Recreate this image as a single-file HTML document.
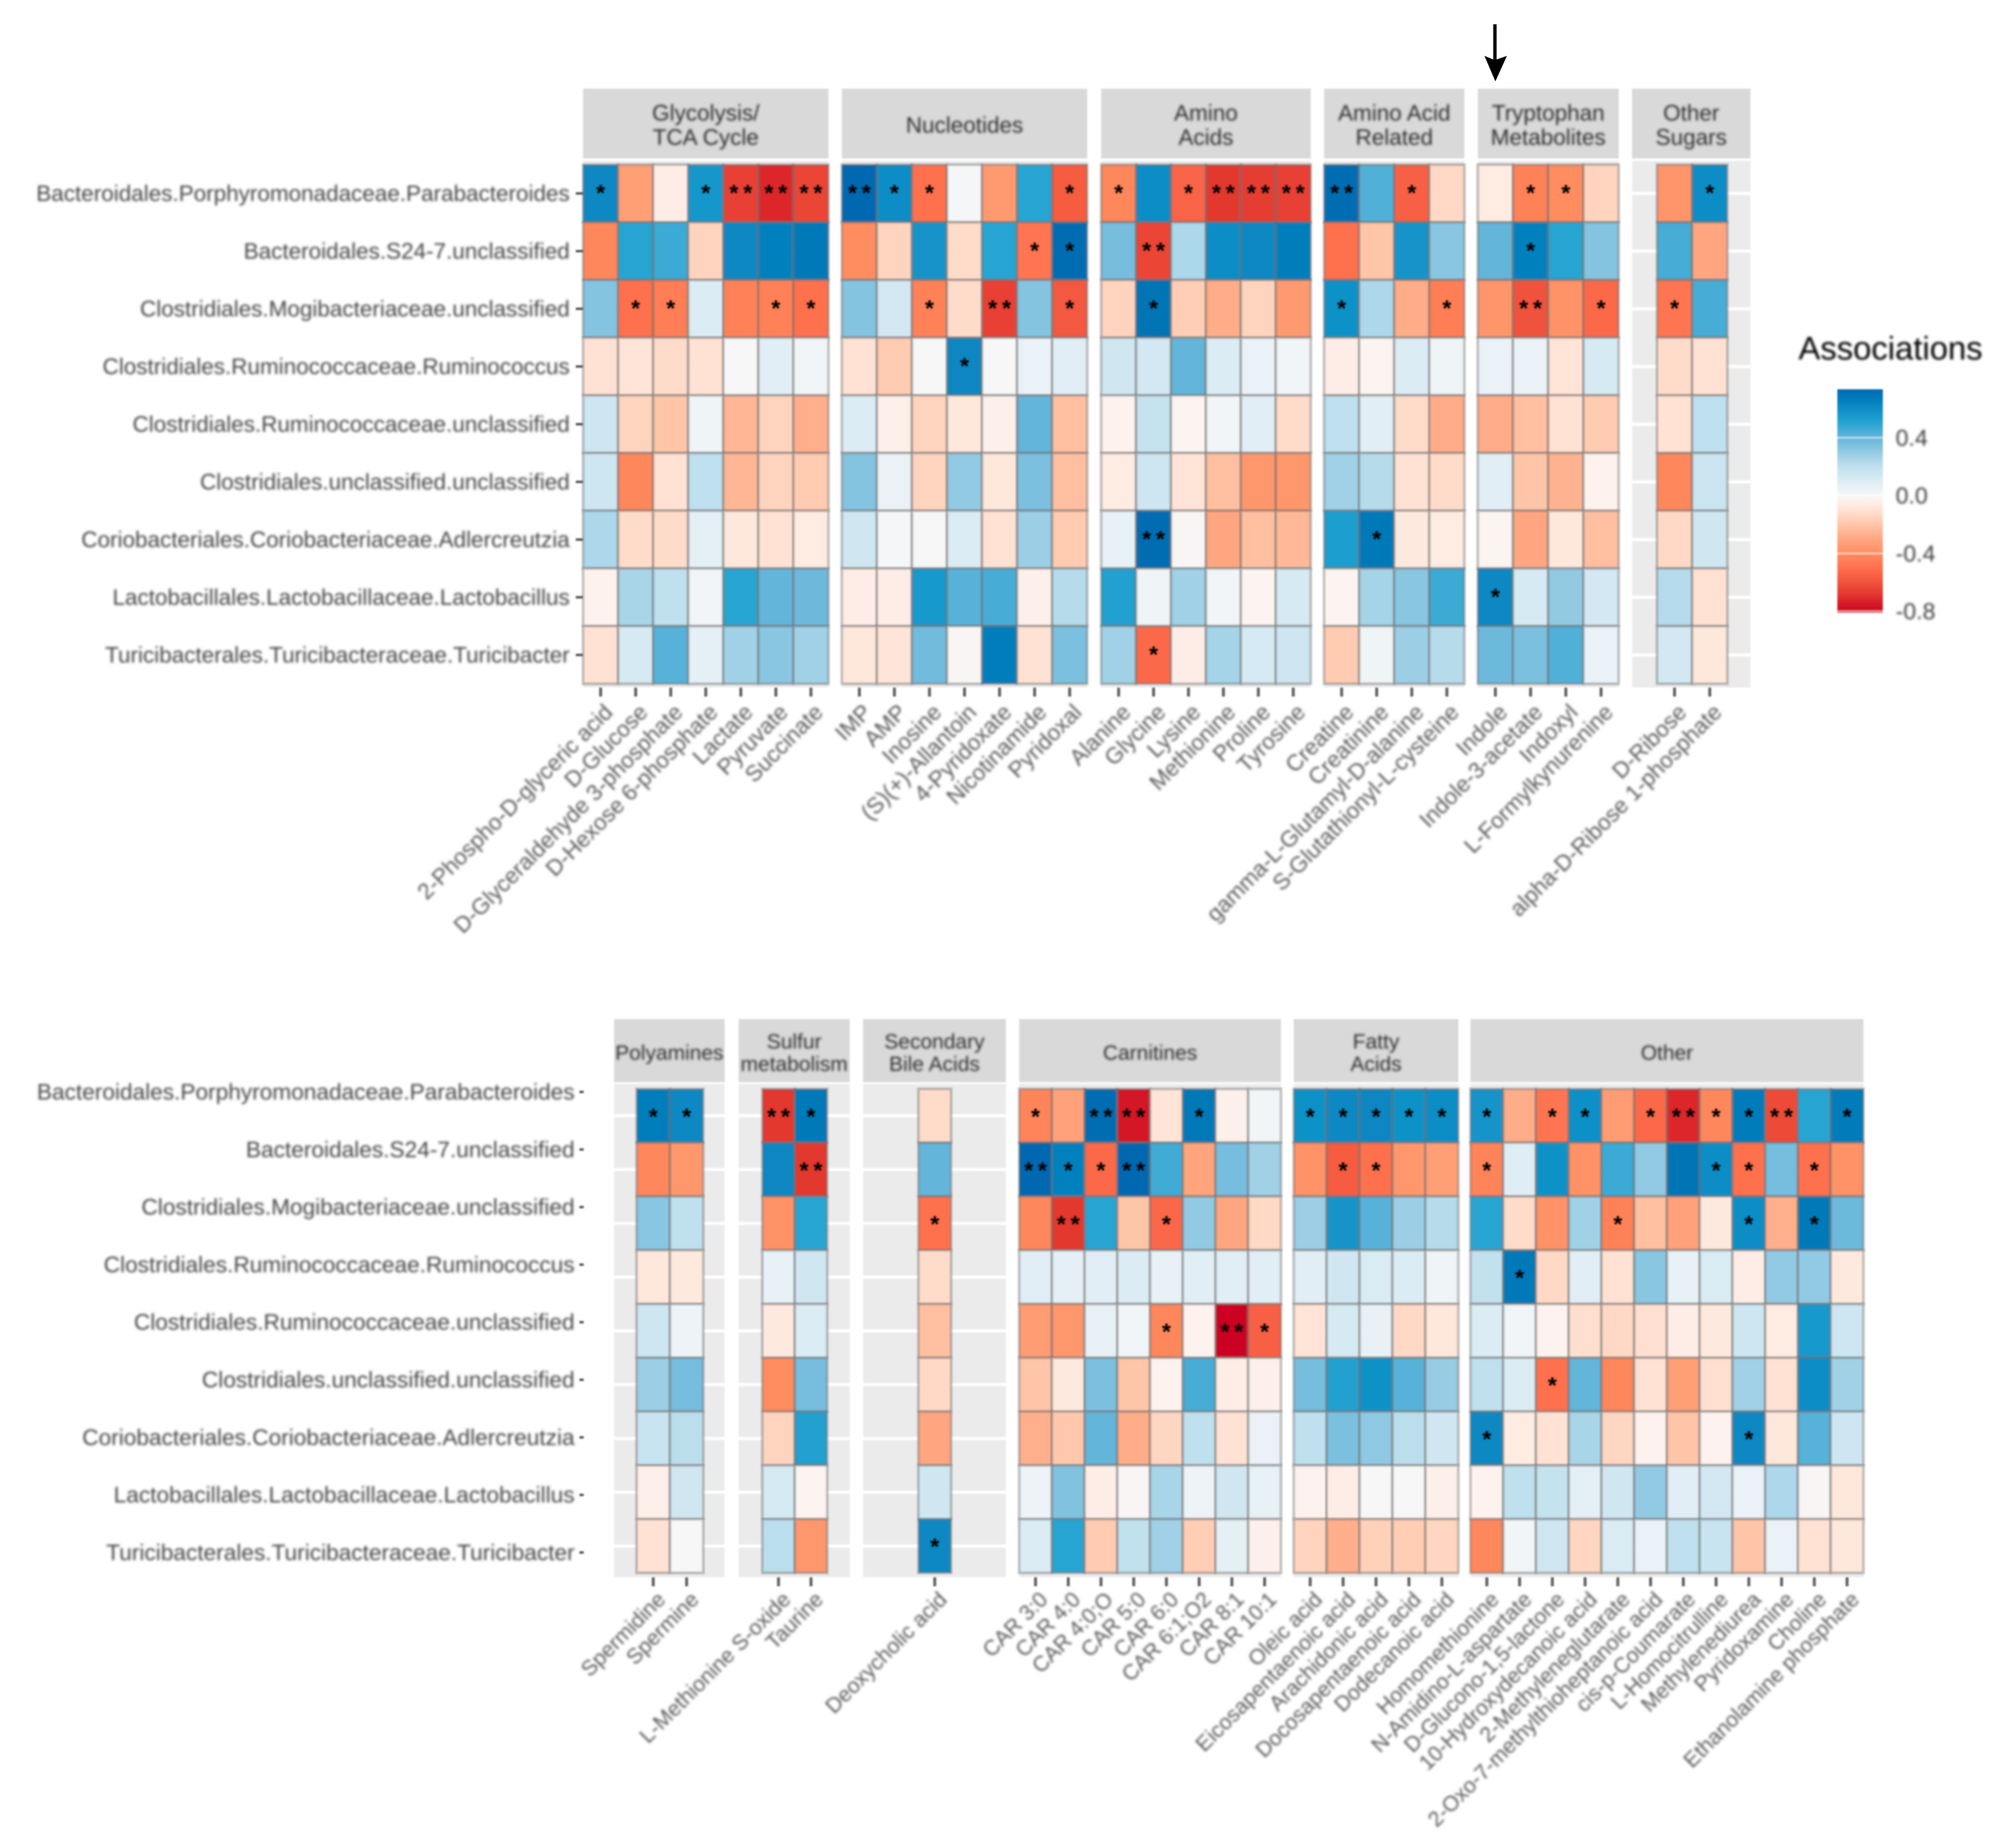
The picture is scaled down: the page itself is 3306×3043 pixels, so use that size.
<!DOCTYPE html>
<html lang="en">
<head>
<meta charset="utf-8">
<title>Microbe–metabolite association heatmaps</title>
<style>
html,body{margin:0;padding:0;background:#fff;}
svg{display:block;font-family:"Liberation Sans",sans-serif;}
</style>
</head>
<body>
<svg id="chart" xmlns="http://www.w3.org/2000/svg" width="3306" height="3043" viewBox="0 0 3306 3043">
  <defs>
    <filter id="softText" x="-5%" y="-5%" width="110%" height="110%"><feGaussianBlur stdDeviation="2"/></filter>
    <filter id="softMark" x="-2%" y="-2%" width="104%" height="104%"><feGaussianBlur stdDeviation="1.2"/></filter>
    <linearGradient id="legendGradient" x1="0" y1="0" x2="0" y2="1"></linearGradient>
  </defs>
  <g id="marks" filter="url(#softMark)"></g>
  <g id="texts" filter="url(#softText)"></g>
  <g id="stars" filter="url(#softMark)"></g>
  <g id="legend" filter="url(#softMark)"></g>
  <g id="arrow">
    <rect x="2458.5" y="40" width="5.5" height="60" fill="#000"></rect>
    <polygon points="2444,92 2461,99 2481,92 2462,134" fill="#000"></polygon>
  </g>
</svg>
<script>
/* ---------- shared categories ---------- */
const rowLabels = [
  "Bacteroidales.Porphyromonadaceae.Parabacteroides",
  "Bacteroidales.S24-7.unclassified",
  "Clostridiales.Mogibacteriaceae.unclassified",
  "Clostridiales.Ruminococcaceae.Ruminococcus",
  "Clostridiales.Ruminococcaceae.unclassified",
  "Clostridiales.unclassified.unclassified",
  "Coriobacteriales.Coriobacteriaceae.Adlercreutzia",
  "Lactobacillales.Lactobacillaceae.Lactobacillus",
  "Turicibacterales.Turicibacteraceae.Turicibacter"
];

/* ---------- colour scale ---------- */
const scaleValues = [-0.81,-0.7,-0.6,-0.5,-0.4,-0.3,-0.2,-0.1,-0.03,0,0.05,0.1,0.2,0.3,0.4,0.5,0.6,0.7,0.735];
const scaleColors = ["#ca0020","#e0302c","#f0533c","#ff6f4d","#ff8d60","#ffa680","#ffc5a8","#ffe2d3","#fdf2ee","#f7f7f7","#eaf2f7","#dcecf4","#bfe0ee","#93cae3","#63b5da","#28a5d2","#0a8dc6","#0074b6","#0068b0"];
const legendTicks = [0.4,0,-0.4,-0.8];
const legendTickLabels = ["0.4","0.0","-0.4","-0.8"];

/* ---------- top figure ---------- */
const glycolysisLabels = ["2-Phospho-D-glyceric acid","D-Glucose","D-Glyceraldehyde 3-phosphate","D-Hexose 6-phosphate","Lactate","Pyruvate","Succinate"];
const glycolysisValues = [
  [0.62,-0.33,-0.05,0.56,-0.65,-0.72,-0.64],
  [-0.42,0.5,0.47,-0.15,0.62,0.65,0.68],
  [0.33,-0.5,-0.45,0.1,-0.44,-0.44,-0.5],
  [-0.1,-0.09,-0.12,-0.1,0,0.08,0.02],
  [0.15,-0.15,-0.2,0.03,-0.25,-0.15,-0.27],
  [0.15,-0.42,-0.1,0.2,-0.25,-0.15,-0.18],
  [0.24,-0.12,-0.12,0.07,-0.08,-0.1,-0.06],
  [-0.03,0.25,0.2,0.02,0.5,0.4,0.38],
  [-0.1,0.12,0.42,0.07,0.27,0.32,0.27]
];
const glycolysisStars = ["1001222","0000000","0110011","0000000","0000000","0000000","0000000","0000000","0000000"];

const nucleotideLabels = ["IMP","AMP","Inosine","(S)(+)-Allantoin","4-Pyridoxate","Nicotinamide","Pyridoxal"];
const nucleotideValues = [
  [0.74,0.6,-0.5,0.01,-0.35,0.5,-0.57],
  [-0.4,-0.15,0.57,-0.12,0.5,-0.48,0.72],
  [0.33,0.13,-0.44,-0.12,-0.65,0.33,-0.58],
  [-0.1,-0.18,0,0.63,0,0.05,0.08],
  [0.1,-0.04,-0.15,-0.08,-0.04,0.4,-0.22],
  [0.33,0.05,-0.15,0.3,-0.08,0.35,-0.22],
  [0.14,0.01,0,0.1,-0.1,0.28,-0.18],
  [-0.05,-0.05,0.55,0.42,0.45,-0.04,0.22],
  [-0.08,-0.09,0.37,-0.01,0.66,-0.1,0.35]
];
const nucleotideStars = ["2110001","0000011","0010201","0001000","0000000","0000000","0000000","0000000","0000000"];

const aminoLabels = ["Alanine","Glycine","Lysine","Methionine","Proline","Tyrosine"];
const aminoValues = [
  [-0.42,0.6,-0.54,-0.68,-0.66,-0.65],
  [0.36,-0.64,0.24,0.6,0.62,0.66],
  [-0.15,0.7,-0.17,-0.28,-0.15,-0.35],
  [0.14,0.13,0.4,0.1,0.05,0.02],
  [-0.03,0.18,-0.02,0.02,0.08,-0.12],
  [-0.06,0.15,-0.09,-0.22,-0.36,-0.36],
  [0.06,0.72,-0.01,-0.3,-0.22,-0.24],
  [0.52,0.03,0.27,0.02,-0.02,0.12],
  [0.27,-0.52,-0.05,0.26,0.12,0.15]
];
const aminoStars = ["101222","020000","010000","000000","000000","000000","020000","000000","010000"];

const aminoRelatedLabels = ["Creatine","Creatinine","gamma-L-Glutamyl-D-alanine","S-Glutathionyl-L-cysteine"];
const aminoRelatedValues = [
  [0.72,0.43,-0.55,-0.13],
  [-0.5,-0.2,0.57,0.32],
  [0.58,0.24,-0.28,-0.45],
  [-0.05,-0.02,0.1,0.03],
  [0.2,0.08,-0.12,-0.28],
  [0.27,0.22,-0.1,-0.12],
  [0.53,0.68,-0.07,-0.06],
  [-0.02,0.26,0.32,0.47],
  [-0.18,0.03,0.28,0.22]
];
const aminoRelatedStars = ["2010","0000","1001","0000","0000","0000","0100","0000","0000"];

const tryptophanLabels = ["Indole","Indole-3-acetate","Indoxyl","L-Formylkynurenine"];
const tryptophanValues = [
  [-0.06,-0.44,-0.4,-0.15],
  [0.4,0.65,0.5,0.33],
  [-0.37,-0.6,-0.38,-0.52],
  [0.05,0.05,-0.09,0.12],
  [-0.28,-0.22,-0.1,-0.18],
  [0.08,-0.2,-0.26,-0.03],
  [-0.02,-0.3,-0.08,-0.22],
  [0.62,0.12,0.3,0.13],
  [0.38,0.35,0.43,0.05]
];
const tryptophanStars = ["0110","0100","0201","0000","0000","0000","0000","1000","0000"];

const sugarLabels = ["D-Ribose","alpha-D-Ribose 1-phosphate"];
const sugarValues = [
  [-0.37,0.6],[0.45,-0.3],[-0.48,0.45],[-0.12,-0.1],[-0.1,0.2],[-0.42,0.16],[-0.13,0.14],[0.22,-0.1],[0.13,-0.08]
];
const sugarStars = ["01","00","10","00","00","00","00","00","00"];

/* ---------- bottom figure ---------- */
const polyamineLabels = ["Spermidine","Spermine"];
const polyamineValues = [
  [0.66,0.62],[-0.42,-0.36],[0.32,0.2],[-0.08,-0.07],[0.15,0.04],[0.28,0.36],[0.17,0.21],[-0.04,0.14],[-0.1,0]
];
const polyamineStars = ["11","00","00","00","00","00","00","00","00"];

const sulfurLabels = ["L-Methionine S-oxide","Taurine"];
const sulfurValues = [
  [-0.68,0.68],[0.63,-0.68],[-0.38,0.5],[0.06,0.14],[-0.07,0.1],[-0.4,0.36],[-0.15,0.52],[0.12,-0.02],[0.21,-0.36]
];
const sulfurStars = ["21","02","00","00","00","00","00","00","00"];

const bileLabels = ["Deoxycholic acid"];
const bileValues = [[-0.12],[0.4],[-0.5],[-0.12],[-0.22],[-0.13],[-0.3],[0.14],[0.62]];
const bileStars = ["0","0","1","0","0","0","0","0","1"];

const carnitineLabels = ["CAR 3:0","CAR 4:0","CAR 4:0;O","CAR 5:0","CAR 6:0","CAR 6:1;O2","CAR 8:1","CAR 10:1"];
const carnitineValues = [
  [-0.43,-0.32,0.72,-0.76,-0.09,0.68,-0.04,0.02],
  [0.75,0.65,-0.52,0.74,0.46,-0.31,0.36,0.27],
  [-0.42,-0.68,0.5,-0.2,-0.53,0.3,-0.3,-0.13],
  [0.08,0.07,0.08,0.1,0.06,0.08,0.08,0.08],
  [-0.34,-0.36,0.06,0.02,-0.42,-0.03,-0.8,-0.55],
  [-0.2,-0.07,0.35,-0.2,-0.03,0.45,-0.05,-0.04],
  [-0.27,-0.19,0.4,-0.28,-0.14,0.2,-0.1,0.05],
  [0.04,0.34,-0.05,-0.01,0.25,0.04,0.14,0.06],
  [0.1,0.5,-0.18,0.19,0.27,-0.17,0.07,-0.04]
];
const carnitineStars = ["10220100","21120000","02001000","00000000","00001021","00000000","00000000","00000000","00000000"];

const fattyLabels = ["Oleic acid","Eicosapentaenoic acid","Arachidonic acid","Docosapentaenoic acid","Dodecanoic acid"];
const fattyValues = [
  [0.58,0.62,0.63,0.58,0.6],
  [-0.38,-0.57,-0.5,-0.36,-0.33],
  [0.28,0.57,0.42,0.28,0.22],
  [0.08,0.14,0.11,0.1,0.03],
  [-0.09,0.12,0.06,-0.13,-0.08],
  [0.36,0.52,0.58,0.42,0.29],
  [0.2,0.35,0.31,0.21,0.14],
  [-0.03,-0.05,0,0,-0.04],
  [-0.15,-0.27,-0.16,-0.17,-0.14]
];
const fattyStars = ["11111","01100","00000","00000","00000","00000","00000","00000","00000"];

const otherLabels = ["Homomethionine","N-Amidino-L-aspartate","D-Glucono-1,5-lactone","10-Hydroxydecanoic acid","2-Methyleneglutarate","2-Oxo-7-methylthioheptanoic acid","cis-p-Coumarate","L-Homocitrulline","Methylenediurea","Pyridoxamine","Choline","Ethanolamine phosphate"];
const otherValues = [
  [0.57,-0.28,-0.48,0.59,-0.34,-0.52,-0.72,-0.42,0.67,-0.62,0.5,0.67],
  [-0.43,0.09,0.58,-0.38,0.47,0.3,0.7,0.6,-0.5,0.36,-0.5,-0.38],
  [0.5,-0.12,-0.38,0.27,-0.44,-0.22,-0.32,-0.07,0.6,-0.27,0.68,0.38],
  [0.19,0.68,-0.13,0.08,-0.1,0.32,0.06,0.11,-0.05,0.3,0.3,-0.07],
  [0.1,0.02,-0.03,-0.11,-0.13,-0.11,-0.05,-0.07,0.15,-0.06,0.55,0.15],
  [0.2,0.1,-0.5,0.4,-0.42,-0.1,-0.33,-0.11,0.27,-0.1,0.6,0.27],
  [0.62,-0.06,-0.1,0.25,-0.14,-0.03,-0.2,-0.03,0.62,-0.08,0.42,0.15],
  [-0.03,0.2,0.18,0.07,0.14,0.3,0.08,0.13,0.05,0.24,-0.01,-0.08],
  [-0.42,0.02,0.14,-0.14,0.11,0.05,0.2,0.17,-0.2,0.05,-0.1,-0.08]
];
const otherStars = ["101101211201","100000011010","000010001010","010000000000","000000000000","001000000000","100000001000","000000000000","000000000000"];

/* ---------- layout (not data) ---------- */
const figures = [
  { name:"top", stripTop:146, stripBottom:261, bgTop:265, bgBottom:1132, cellTop:271, cellBottom:1126,
    rowLabelRight:938, rowTickX0:948, rowTickX1:960, rowLabelTop:318.5, rowLabelStep:95,
    tickEnd:1147, labelY:1175, starLift:9, titleGap:40,
    rowFont:37, xFont:37.2, stripFont:37,
    panels:[
      {key:"glycolysis",title:["Glycolysis/","TCA Cycle"],labels:glycolysisLabels,values:glycolysisValues,stars:glycolysisStars,bg:[960,1364],cells:[960,1364]},
      {key:"nucleotides",title:["Nucleotides"],labels:nucleotideLabels,values:nucleotideValues,stars:nucleotideStars,bg:[1386,1790],cells:[1386,1790]},
      {key:"amino-acids",title:["Amino","Acids"],labels:aminoLabels,values:aminoValues,stars:aminoStars,bg:[1813,2158],cells:[1813,2158]},
      {key:"amino-acid-related",title:["Amino Acid","Related"],labels:aminoRelatedLabels,values:aminoRelatedValues,stars:aminoRelatedStars,bg:[2180,2411],cells:[2180,2411]},
      {key:"tryptophan-metabolites",title:["Tryptophan","Metabolites"],labels:tryptophanLabels,values:tryptophanValues,stars:tryptophanStars,bg:[2433,2665],cells:[2433,2665]},
      {key:"other-sugars",title:["Other","Sugars"],labels:sugarLabels,values:sugarValues,stars:sugarStars,bg:[2687,2882],cells:[2728,2844]}
    ]},
  { name:"bottom", stripTop:1678, stripBottom:1782, bgTop:1785, bgBottom:2597, cellTop:1793, cellBottom:2590,
    rowLabelRight:946, rowTickX0:954, rowTickX1:961, rowLabelTop:1798, rowLabelStep:94.8,
    tickEnd:2612, labelY:2636, starLift:7, titleGap:37,
    rowFont:37.3, xFont:35.4, stripFont:34.5,
    panels:[
      {key:"polyamines",title:["Polyamines"],labels:polyamineLabels,values:polyamineValues,stars:polyamineStars,bg:[1011,1193],cells:[1048,1158]},
      {key:"sulfur-metabolism",title:["Sulfur","metabolism"],labels:sulfurLabels,values:sulfurValues,stars:sulfurStars,bg:[1216,1399],cells:[1255,1362]},
      {key:"secondary-bile-acids",title:["Secondary","Bile Acids"],labels:bileLabels,values:bileValues,stars:bileStars,bg:[1421,1656],cells:[1512,1566]},
      {key:"carnitines",title:["Carnitines"],labels:carnitineLabels,values:carnitineValues,stars:carnitineStars,bg:[1678,2109],cells:[1678,2109]},
      {key:"fatty-acids",title:["Fatty","Acids"],labels:fattyLabels,values:fattyValues,stars:fattyStars,bg:[2130,2401],cells:[2130,2401]},
      {key:"other",title:["Other"],labels:otherLabels,values:otherValues,stars:otherStars,bg:[2421,3068],cells:[2421,3068]}
    ]}
];

/* ---------- helpers ---------- */
const SVGNS = "http://www.w3.org/2000/svg";
const marksLayer = document.getElementById("marks");
const textLayer = document.getElementById("texts");
const starLayer = document.getElementById("stars");
const legendLayer = document.getElementById("legend");

function shape(tag, parent, attrs) {
  const el = document.createElementNS(SVGNS, tag);
  for (const k in attrs) el.setAttribute(k, attrs[k]);
  parent.appendChild(el);
  return el;
}
function hexToRgb(h) {
  return [parseInt(h.slice(1,3),16),parseInt(h.slice(3,5),16),parseInt(h.slice(5,7),16)];
}
function colorFor(v) {
  if (v <= scaleValues[0]) return scaleColors[0];
  for (let i = 1; i < scaleValues.length; i++) {
    if (v <= scaleValues[i]) {
      const t = (v - scaleValues[i-1]) / (scaleValues[i] - scaleValues[i-1]);
      const a = hexToRgb(scaleColors[i-1]);
      const b = hexToRgb(scaleColors[i]);
      return "rgb(" + a.map((c,j) => Math.round(c + (b[j]-c)*t)).join(",") + ")";
    }
  }
  return scaleColors[scaleColors.length-1];
}

/* ---------- draw heatmaps ---------- */
figures.forEach(function (fig) {
  const rowH = (fig.cellBottom - fig.cellTop) / rowLabels.length;
  const yScale = function (r) { return fig.cellTop + r * rowH; };

  rowLabels.forEach(function (label, r) {
    const ly = fig.rowLabelTop + r * fig.rowLabelStep;
    const t = shape("text", textLayer, {x:fig.rowLabelRight, y:ly + 12.5, "text-anchor":"end", "font-size":fig.rowFont, fill:"#444"});
    t.textContent = label;
    
    
    const tick = shape("line", marksLayer, {x1:fig.rowTickX0, x2:fig.rowTickX1, y1:ly, y2:ly, stroke:"#555", "stroke-width":4});
    
    
  });

  fig.panels.forEach(function (p) {
    const bgW = p.bg[1] - p.bg[0];
    const strip = shape("rect", marksLayer, {x:p.bg[0], y:fig.stripTop, width:bgW, height:fig.stripBottom - fig.stripTop, fill:"#d9d9d9"});
    
    

    const cx = (p.bg[0] + p.bg[1]) / 2;
    const cy = (fig.stripTop + fig.stripBottom) / 2;
    p.title.forEach(function (line, i) {
      const off = (i - (p.title.length - 1) / 2) * fig.titleGap;
      const t = shape("text", textLayer, {x:cx, y:cy + off + 15, "text-anchor":"middle", "font-size":fig.stripFont, fill:"#2e2e2e"});
      t.textContent = line;
      
      
    });

    const bg = shape("rect", marksLayer, {x:p.bg[0], y:fig.bgTop, width:bgW, height:fig.bgBottom - fig.bgTop, fill:"#ebebeb"});
    
    

    rowLabels.forEach(function (_, r) {
      const gy = yScale(r) + rowH / 2;
      const grid = shape("line", marksLayer, {x1:p.bg[0], x2:p.bg[1], y1:gy, y2:gy, stroke:"#fff", "stroke-width":5});
      
      
    });

    const colW = (p.cells[1] - p.cells[0]) / p.labels.length;
    const xScale = function (c) { return p.cells[0] + c * colW; };

    p.values.forEach(function (rowValues, r) {
      rowValues.forEach(function (v, c) {
        const tile = shape("rect", marksLayer, {x:xScale(c), y:yScale(r), width:colW, height:rowH, fill:colorFor(v), stroke:"#6e6e6e", "stroke-opacity":0.42, "stroke-width":4.5});
        
        

        const count = Number(p.stars[r][c]);
        if (count > 0) {
          const star = shape("text", starLayer, {
            x:xScale(c) + colW / 2 + (count > 1 ? 4 : 0),
            y:yScale(r) + rowH / 2 - fig.starLift + 21,
            "text-anchor":"middle", "font-size":38, "font-weight":"bold", "letter-spacing":count > 1 ? 8 : 0, fill:"#000"
          });
          star.textContent = "*".repeat(count);
          
          
        }
      });
    });

    p.labels.forEach(function (label, c) {
      const tx = xScale(c) + colW / 2;
      const tick = shape("line", marksLayer, {x1:tx, x2:tx, y1:fig.bgBottom, y2:fig.tickEnd, stroke:"#666", "stroke-width":5});
      
      
      const lx = tx + 22;
      const t = shape("text", textLayer, {x:lx, y:fig.labelY, "text-anchor":"end", "font-size":fig.xFont, fill:"#5a5a5a", transform:"rotate(-45 " + lx + " " + fig.labelY + ")"});
      t.textContent = label;
      
      
    });
  });
});

/* ---------- legend ---------- */
const legendTop = 641, legendBottom = 1009, legendLeft = 3025, legendWidth = 75;
const legendMax = scaleValues[scaleValues.length - 1];
const legendMin = scaleValues[0];
const legendY = function (v) { return legendTop + (legendMax - v) / (legendMax - legendMin) * (legendBottom - legendTop); };

const grad = document.getElementById("legendGradient");
for (let i = scaleValues.length - 1; i >= 0; i--) {
  shape("stop", grad, {offset:((legendMax - scaleValues[i]) / (legendMax - legendMin)), "stop-color":scaleColors[i]});
}
const bar = shape("rect", legendLayer, {x:legendLeft, y:legendTop, width:legendWidth, height:legendBottom - legendTop, fill:"url(#legendGradient)"});



const legendTitle = shape("text", textLayer, {x:2961, y:592, "font-size":54, fill:"#000"});
legendTitle.textContent = "Associations";



legendTicks.forEach(function (v, i) {
  const y = legendY(v);
  const l = shape("line", legendLayer, {x1:legendLeft, x2:legendLeft + legendWidth, y1:y, y2:y, stroke:"#fff", "stroke-opacity":0.6, "stroke-width":2.5});
  
  
  const t = shape("text", textLayer, {x:3121, y:y + 13, "font-size":38, fill:"#3d3d3d"});
  t.textContent = legendTickLabels[i];
  
  
});
</script>
</body>
</html>
